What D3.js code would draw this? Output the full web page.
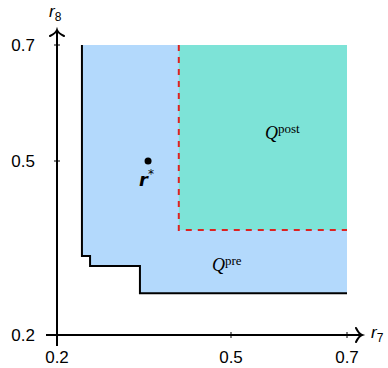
<!DOCTYPE html>
<html>
<head>
<meta charset="utf-8">
<script src="https://cdn.jsdelivr.net/npm/d3@7"></script>
<style>
body { margin: 0; background: #fff; }
svg text { font-family: "Liberation Sans", Arial, sans-serif; }
</style>
</head>
<body>
<div id="chart"></div>
<script>
// axis ticks
var xTicks = [0.2, 0.5, 0.7];
var yTicks = [0.2, 0.5, 0.7];
// staircase boundary of Q^pre (r7, r8)
var preBoundary = [[0.243, 0.7], [0.243, 0.336], [0.257, 0.336], [0.257, 0.319],
                   [0.343, 0.319], [0.343, 0.272], [0.7, 0.272]];
// lower-left corner of Q^post
var postCorner = [0.41, 0.381];
// the point r*
var rStar = [0.357, 0.5];

var width = 388, height = 368;

var x = d3.scaleLinear().domain([0.2, 0.7]).range([57, 347]);
var y = d3.scaleLinear().domain([0.2, 0.7]).range([335, 45]);

var svg = d3.select("#chart").append("svg")
	.attr("width", width)
	.attr("height", height);

var line = d3.line().x(function(d) { return x(d[0]); }).y(function(d) { return y(d[1]); });

// Q^pre region
svg.append("path")
	.attr("d", line(preBoundary.concat([[0.7, 0.7]])) + "Z")
	.attr("fill", "#b3d9fc");

// Q^post region
svg.append("rect")
	.attr("x", x(postCorner[0]))
	.attr("y", y(0.7))
	.attr("width", x(0.7) - x(postCorner[0]))
	.attr("height", y(postCorner[1]) - y(0.7))
	.attr("fill", "#7de3d7");

// Q^pre boundary
svg.append("path")
	.attr("d", line(preBoundary))
	.attr("fill", "none")
	.attr("stroke", "#000")
	.attr("stroke-width", 2);

// Q^post boundary, dashed
svg.append("path")
	.attr("d", line([[postCorner[0], 0.7], postCorner, [0.7, postCorner[1]]]))
	.attr("fill", "none")
	.attr("stroke", "#dd2222")
	.attr("stroke-width", 2)
	.attr("stroke-dasharray", "6,6");

// axes
var axes = svg.append("g").attr("stroke", "#000").attr("stroke-width", 2).attr("fill", "none");
axes.append("line").attr("x1", x(0.2) - 11).attr("x2", x(0.7) + 15).attr("y1", y(0.2)).attr("y2", y(0.2));
axes.append("line").attr("x1", x(0.2)).attr("x2", x(0.2)).attr("y1", y(0.2) + 11).attr("y2", y(0.7) - 15);
// arrowheads
var xa = x(0.7) + 15, ya = y(0.7) - 15;
axes.append("path")
	.attr("d", "M" + (xa - 6) + "," + (y(0.2) - 7) + " Q" + (xa - 3) + "," + (y(0.2) - 1) + " " + xa + "," + y(0.2) +
		" Q" + (xa - 3) + "," + (y(0.2) + 1) + " " + (xa - 6) + "," + (y(0.2) + 7))
	.attr("stroke-linecap", "round");
axes.append("path")
	.attr("d", "M" + (x(0.2) - 7) + "," + (ya + 6) + " Q" + (x(0.2) - 1) + "," + (ya + 3) + " " + x(0.2) + "," + ya +
		" Q" + (x(0.2) + 1) + "," + (ya + 3) + " " + (x(0.2) + 7) + "," + (ya + 6))
	.attr("stroke-linecap", "round");

// tick marks
svg.selectAll(".xtick").data(xTicks.slice(1)).enter().append("line")
	.attr("x1", function(d) { return x(d); }).attr("x2", function(d) { return x(d); })
	.attr("y1", y(0.2) - 3).attr("y2", y(0.2) + 3)
	.attr("stroke", "#000").attr("stroke-width", 1);
svg.selectAll(".ytick").data(yTicks.slice(1)).enter().append("line")
	.attr("y1", function(d) { return y(d); }).attr("y2", function(d) { return y(d); })
	.attr("x1", x(0.2) - 3).attr("x2", x(0.2) + 3)
	.attr("stroke", "#000").attr("stroke-width", 1);

// tick labels
svg.selectAll(".xlab").data(xTicks).enter().append("text")
	.attr("x", function(d) { return x(d); })
	.attr("y", y(0.2) + 28)
	.attr("text-anchor", "middle")
	.attr("font-size", 17)
	.text(function(d) { return d3.format(".1f")(d); });
svg.selectAll(".ylab").data(yTicks).enter().append("text")
	.attr("x", x(0.2) - 22)
	.attr("y", function(d) { return y(d) + 6; })
	.attr("text-anchor", "end")
	.attr("font-size", 17)
	.text(function(d) { return d3.format(".1f")(d); });

// axis labels
var lx = svg.append("text").attr("x", xa + 9).attr("y", y(0.2) + 3).attr("font-size", 17);
lx.append("tspan").attr("font-style", "italic").text("r");
lx.append("tspan").attr("font-size", 12).attr("dy", 4).text("7");
var ly = svg.append("text").attr("x", x(0.2) - 8).attr("y", ya - 13).attr("font-size", 17);
ly.append("tspan").attr("font-style", "italic").text("r");
ly.append("tspan").attr("font-size", 12).attr("dy", 4).text("8");

// r*
svg.append("circle").attr("cx", x(rStar[0])).attr("cy", y(rStar[1])).attr("r", 3.5).attr("fill", "#000");
var rl = svg.append("text").attr("x", x(rStar[0]) - 9).attr("y", y(rStar[1]) + 25)
	.attr("font-size", 18).attr("font-weight", "bold").attr("font-style", "italic")
	.style("font-family", "'DejaVu Sans', sans-serif");
rl.append("tspan").text("r");
rl.append("tspan").attr("font-size", 12).attr("dy", -8).attr("font-weight", "normal").attr("font-style", "normal").text("*");

// region labels
function qLabel(px, py, sup) {
	var t = svg.append("text").attr("x", px).attr("y", py)
		.style("font-family", "'Liberation Serif', 'DejaVu Serif', serif")
		.attr("font-size", 18);
	t.append("tspan").attr("font-style", "italic").text("Q");
	t.append("tspan").attr("font-size", 13).attr("dy", -6).text(sup);
}
qLabel(212, 271, "pre");
qLabel(265, 139, "post");
</script>
</body>
</html>
